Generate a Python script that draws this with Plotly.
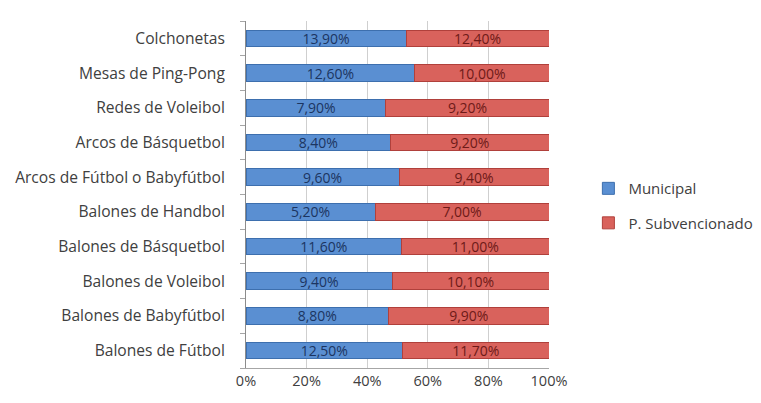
import plotly.graph_objects as go

categories = [
    "Balones de Fútbol",
    "Balones de Babyfútbol",
    "Balones de Voleibol",
    "Balones de Básquetbol",
    "Balones de Handbol",
    "Arcos de Fútbol o Babyfútbol",
    "Arcos de Básquetbol",
    "Redes de Voleibol",
    "Mesas de Ping-Pong",
    "Colchonetas",
]
municipal = [12.5, 8.8, 9.4, 11.6, 5.2, 9.6, 8.4, 7.9, 12.6, 13.9]
subvencionado = [11.7, 9.9, 10.1, 11.0, 7.0, 9.4, 9.2, 9.2, 10.0, 12.4]
x_ticks = [0, 20, 40, 60, 80, 100]
x_tick_labels = ["0%", "20%", "40%", "60%", "80%", "100%"]


def pct_label(v):
    return f"{v:.2f}%".replace(".", ",")


FONT = "Open Sans, Liberation Sans, sans-serif"

fig = go.Figure()
fig.add_trace(go.Bar(
    y=categories, x=municipal, orientation="h", name="Municipal",
    legendgroup="m",
    marker=dict(color="#5a8fd2", line=dict(color="#3d6fae", width=1)),
    text=[pct_label(v) for v in municipal], textposition="inside",
    insidetextanchor="middle",
    textfont=dict(color="#1c3561", size=14, family=FONT),
))
fig.add_trace(go.Bar(
    y=categories, x=subvencionado, orientation="h", name="P. Subvencionado",
    legendgroup="s",
    marker=dict(color="#d9625c", line=dict(color="#b0403b", width=1)),
    text=[pct_label(v) for v in subvencionado], textposition="inside",
    insidetextanchor="middle",
    textfont=dict(color="#6e1a18", size=14, family=FONT),
))

fig.update_layout(
    width=761, height=403,
    barmode="stack", barnorm="percent", bargap=0.52,
    paper_bgcolor="white", plot_bgcolor="white",
    margin=dict(l=246, r=212, t=21, b=35, autoexpand=False),
    font=dict(family=FONT, size=14, color="#404040"),
    uniformtext=dict(minsize=8, mode="show"),
    legend=dict(
        x=1.13, y=0.468, xanchor="left", yanchor="middle",
        traceorder="grouped", tracegroupgap=12,
        font=dict(size=15, color="#404040"),
        bgcolor="rgba(0,0,0,0)",
    ),
    xaxis=dict(
        range=[0, 100], tickvals=x_ticks, ticktext=x_tick_labels,
        showgrid=True, gridcolor="#cfcfcf", gridwidth=1,
        zeroline=False, showline=True, linecolor="#a6a6a6",
        ticks="", tickfont=dict(size=14.5, color="#404040"),
        fixedrange=True, automargin=False,
    ),
    yaxis=dict(
        showline=True, linecolor="#8c8c8c", ticks="outside",
        tickson="boundaries", ticklen=5, tickcolor="#a6a6a6",
        showgrid=False, tickfont=dict(size=15.6, color="#404040"),
        ticklabelstandoff=17, fixedrange=True, automargin=False,
    ),
)

fig.write_html("out.html")
